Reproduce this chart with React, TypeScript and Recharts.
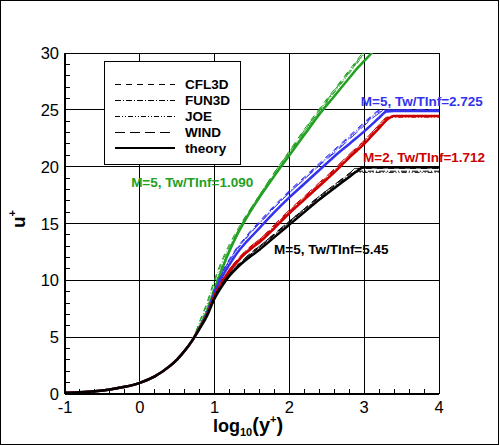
import React from 'react';
import { LineChart, Line, XAxis, YAxis, CartesianGrid, ReferenceDot } from 'recharts';

// ---- axes ----
const xTicks = [-1, -0.8, -0.6, -0.4, -0.2, 0, 0.2, 0.4, 0.6, 0.8, 1, 1.2, 1.4, 1.6, 1.8, 2, 2.2, 2.4, 2.6, 2.8, 3, 3.2, 3.4, 3.6, 3.8, 4];
const yTicks = [0, 1, 2, 3, 4, 5, 6, 7, 8, 9, 10, 11, 12, 13, 14, 15, 16, 17, 18, 19, 20, 21, 22, 23, 24, 25, 26, 27, 28, 29, 30];
const xGrid = [-1, 0, 1, 2, 3, 4];
const yGrid = [0, 5, 10, 15, 20, 25, 30];

// ---- common near-wall region (all curves coincide) ----
const xWall = [-1, -0.8, -0.6, -0.4, -0.2, 0, 0.2, 0.4, 0.5, 0.6, 0.7];
const uWall = [0.1, 0.16, 0.25, 0.4, 0.63, 0.98, 1.55, 2.45, 3.05, 3.8, 4.7];

// ---- outer region abscissae ----
const xOuter = [0.8, 0.9, 1.0, 1.1, 1.2, 1.3, 1.4, 1.5, 1.6, 1.8, 2.0, 2.2, 2.4, 2.6, 2.8, 2.9, 3.0, 3.1, 3.2, 3.3, 3.4, 3.6, 3.8, 4.0];

// M=5, Tw/Tinf=1.090 (green)
const greenTheory = [5.9, 7.3, 9.2, 11.0, 12.6, 14.0, 15.2, 16.3, 17.3, 19.2, 21.0, 22.8, 24.6, 26.2, 27.8, 28.6, 29.3, 30.0, 30.8];
const greenCFL3D = [6.4, 8.1, 10.1, 11.8, 13.2, 14.4, 15.5, 16.5, 17.5, 19.5, 21.4, 23.3, 25.1, 26.8, 28.5, 29.35, 30.2, 31.0, 31.9];
const greenFUN3D = [6.3, 7.9, 9.9, 11.6, 13.0, 14.2, 15.3, 16.3, 17.3, 19.3, 21.2, 23.1, 24.9, 26.6, 28.3, 29.15, 30.0, 30.8, 31.7];
const greenJOE = [6.1, 7.6, 9.5, 11.3, 12.8, 14.0, 15.1, 16.2, 17.2, 19.2, 21.1, 23.0, 24.8, 26.5, 28.2, 29.05, 29.9, 30.7, 31.6];
const greenWIND = [5.8, 7.2, 9.1, 11.0, 12.7, 14.2, 15.4, 16.5, 17.5, 19.5, 21.3, 23.2, 25.0, 26.7, 28.4, 29.25, 30.1, 30.9, 31.8];

// M=5, Tw/Tinf=2.725 (blue)
const blueTheory = [5.8, 7.1, 8.9, 10.3, 11.4, 12.4, 13.2, 13.9, 14.6, 16.0, 17.3, 18.5, 19.7, 20.9, 22.0, 22.55, 23.1, 23.7, 24.3, 24.85, 24.9, 24.9, 24.9, 24.9];
const blueCFL3D = [5.9, 7.3, 9.2, 10.7, 11.9, 12.9, 13.7, 14.5, 15.2, 16.6, 17.9, 19.1, 20.3, 21.5, 22.7, 23.3, 23.9, 24.5, 24.95, 25.0, 25.0, 25.0, 25.0, 25.0];
const blueFUN3D = [5.9, 7.2, 9.1, 10.6, 11.8, 12.8, 13.6, 14.4, 15.1, 16.5, 17.8, 19.0, 20.2, 21.4, 22.6, 23.2, 23.8, 24.4, 24.9, 24.95, 24.95, 24.95, 24.95, 24.95];
const blueJOE = [5.8, 7.2, 9.0, 10.5, 11.7, 12.7, 13.5, 14.3, 15.0, 16.4, 17.7, 18.9, 20.1, 21.3, 22.5, 23.1, 23.7, 24.3, 24.8, 24.9, 24.9, 24.9, 24.9, 24.9];
const blueWIND = [5.9, 7.3, 9.1, 10.6, 11.8, 12.8, 13.6, 14.3, 15.0, 16.4, 17.7, 18.9, 20.1, 21.2, 22.4, 23.0, 23.6, 24.2, 24.7, 24.95, 25.0, 25.0, 25.0, 25.0];

// M=2, Tw/Tinf=1.712 (red)
const redTheory = [5.8, 7.0, 8.6, 9.8, 10.8, 11.6, 12.3, 12.85, 13.35, 14.6, 15.9, 17.1, 18.3, 19.5, 20.8, 21.4, 22.0, 22.7, 23.4, 24.1, 24.45, 24.45, 24.45, 24.45];
const redCFL3D = [5.8, 7.1, 8.8, 10.0, 11.0, 11.8, 12.5, 13.1, 13.6, 14.8, 16.1, 17.3, 18.5, 19.7, 21.0, 21.6, 22.2, 22.9, 23.6, 24.3, 24.45, 24.45, 24.45, 24.45];
const redFUN3D = [5.8, 7.1, 8.7, 9.9, 10.9, 11.7, 12.4, 13.0, 13.5, 14.7, 16.0, 17.2, 18.4, 19.6, 20.9, 21.5, 22.1, 22.8, 23.5, 24.2, 24.4, 24.4, 24.4, 24.4];
const redJOE = [5.8, 7.0, 8.7, 9.9, 10.9, 11.7, 12.4, 13.0, 13.5, 14.8, 16.1, 17.3, 18.5, 19.7, 21.0, 21.6, 22.3, 23.0, 23.7, 24.3, 24.35, 24.35, 24.35, 24.35];
const redWIND = [5.8, 7.1, 8.8, 10.0, 11.0, 11.8, 12.5, 13.1, 13.6, 14.9, 16.2, 17.4, 18.6, 19.8, 21.1, 21.7, 22.3, 23.0, 23.7, 24.35, 24.5, 24.5, 24.5, 24.5];

// M=5, Tw/Tinf=5.45 (black)
const blackTheory = [5.75, 6.9, 8.4, 9.5, 10.4, 11.1, 11.7, 12.2, 12.7, 13.8, 14.9, 16.0, 17.1, 18.1, 19.1, 19.6, 19.95, 19.95, 19.95, 19.95, 19.95, 19.95, 19.95, 19.95];
const blackCFL3D = [5.8, 7.0, 8.6, 9.7, 10.6, 11.3, 11.9, 12.5, 13.0, 14.1, 15.2, 16.3, 17.4, 18.4, 19.4, 19.85, 19.85, 19.85, 19.85, 19.85, 19.85, 19.85, 19.85, 19.85];
const blackFUN3D = [5.8, 6.9, 8.5, 9.6, 10.5, 11.2, 11.8, 12.4, 12.9, 14.0, 15.1, 16.2, 17.3, 18.3, 19.3, 19.6, 19.6, 19.6, 19.6, 19.6, 19.6, 19.6, 19.6, 19.6];
const blackJOE = [5.8, 6.9, 8.5, 9.6, 10.5, 11.2, 11.8, 12.4, 12.9, 14.0, 15.1, 16.2, 17.2, 18.2, 19.2, 19.5, 19.5, 19.5, 19.5, 19.5, 19.5, 19.5, 19.5, 19.5];
const blackWIND = [5.8, 7.0, 8.6, 9.7, 10.6, 11.3, 11.9, 12.5, 13.0, 14.1, 15.2, 16.3, 17.4, 18.4, 19.4, 19.9, 19.9, 19.9, 19.9, 19.9, 19.9, 19.9, 19.9, 19.9];

const codeNames = ['CFL3D', 'FUN3D', 'JOE', 'WIND', 'theory'];
const caseLabels = ['M=5, Tw/TInf=1.090', 'M=5, Tw/TInf=2.725', 'M=2, Tw/TInf=1.712', 'M=5, Tw/TInf=5.45'];
const labelX = [0.7, 3.77, 3.8, 2.56];
const labelY = [18.65, 25.7, 20.85, 12.75];

const GREEN = '#22a022';
const BLUE = '#3333ee';
const RED = '#cc0000';
const BLACK = '#000000';
const caseColors = [GREEN, BLUE, RED, BLACK];

const DASH: Record<string, string | undefined> = {
  CFL3D: '6 5',
  FUN3D: '6 2 1 2',
  JOE: '5 2 1 2 1 2',
  WIND: '10 5',
  theory: undefined,
};

const build = (tail: number[]) => [
  ...xWall.map((x, i) => ({ x, u: uWall[i] })),
  ...tail.map((u, i) => ({ x: xOuter[i], u })),
];

const cases = [
  [greenCFL3D, greenFUN3D, greenJOE, greenWIND, greenTheory],
  [blueCFL3D, blueFUN3D, blueJOE, blueWIND, blueTheory],
  [redCFL3D, redFUN3D, redJOE, redWIND, redTheory],
  [blackCFL3D, blackFUN3D, blackJOE, blackWIND, blackTheory],
];

const FONT = '"Liberation Sans", Arial, Helvetica, sans-serif';

const renderXTick = (props: any) => {
  const { x, y, payload } = props;
  const v = payload.value as number;
  const major = Number.isInteger(Math.round(v * 1000) / 1000);
  return (
    <g>
      <line x1={x} x2={x} y1={y} y2={y - (major ? 8 : 5)} stroke="#000" strokeWidth={1} shapeRendering="crispEdges" />
      {major && (
        <text x={x} y={y + 19} textAnchor="middle" fontSize={16.5} fontFamily={FONT} fill="#000">
          {String(Math.round(v))}
        </text>
      )}
    </g>
  );
};

const renderYTick = (props: any) => {
  const { x, y, payload } = props;
  const v = payload.value as number;
  const major = v % 5 === 0;
  return (
    <g>
      <line x1={x} x2={x + (major ? 8 : 5)} y1={y} y2={y} stroke="#000" strokeWidth={1} shapeRendering="crispEdges" />
      {major && (
        <text x={x - 6} y={y + 6} textAnchor="end" fontSize={16.5} fontFamily={FONT} fill="#000">
          {String(v)}
        </text>
      )}
    </g>
  );
};

const vGen = (p: any) => {
  const ax = p && p.xAxis;
  if (ax && typeof ax.scale === 'function') return xGrid.map((v) => ax.scale(v));
  const o = p.offset;
  return xGrid.map((v) => o.left + ((v - xGrid[0]) / (xGrid[xGrid.length - 1] - xGrid[0])) * o.width);
};
const hGen = (p: any) => {
  const ax = p && p.yAxis;
  if (ax && typeof ax.scale === 'function') return yGrid.map((v) => ax.scale(v));
  const o = p.offset;
  return yGrid.map((v) => o.top + ((yGrid[yGrid.length - 1] - v) / (yGrid[yGrid.length - 1] - yGrid[0])) * o.height);
};

const CSS = `
.recharts-wrapper line, .crisp line, .crisp rect { shape-rendering: crispEdges !important; }
.recharts-cartesian-grid line { stroke: #000 !important; stroke-opacity: 1 !important; }
`;

export default function App() {
  const legendRows = codeNames;
  return (
    <div style={{ position: 'absolute', left: 0, top: 0, width: 500, height: 445, background: '#fff' }}>
      <style>{CSS}</style>
      <LineChart width={500} height={445} margin={{ top: 53, right: 61, left: 5, bottom: 11 }}>
        <CartesianGrid
          stroke="#000"
          strokeOpacity={1}
          strokeWidth={1}
          shapeRendering="crispEdges"
          verticalCoordinatesGenerator={vGen}
          horizontalCoordinatesGenerator={hGen}
        />
        <XAxis
          type="number"
          dataKey="x"
          domain={[-1, 4]}
          ticks={xTicks}
          interval={0}
          tick={renderXTick}
          tickLine={false}
          tickSize={0}
          tickMargin={0}
          height={40}
          allowDataOverflow
          axisLine={{ stroke: '#000', strokeWidth: 2 }}
        />
        <YAxis
          type="number"
          domain={[0, 30]}
          ticks={yTicks}
          interval={0}
          tick={renderYTick}
          tickLine={false}
          tickSize={0}
          tickMargin={0}
          width={60}
          allowDataOverflow
          axisLine={{ stroke: '#000', strokeWidth: 2 }}
        />
        {cases.map((series, ci) =>
          series.map((tail, si) => {
            const name = codeNames[si];
            const theory = name === 'theory';
            return (
              <Line
                key={`${ci}-${si}`}
                data={build(tail)}
                dataKey="u"
                type="monotone"
                dot={false}
                activeDot={false}
                stroke={caseColors[ci]}
                strokeWidth={theory ? 2.5 : 1}
                strokeDasharray={DASH[name]}
                isAnimationActive={false}
              />
            );
          })
        )}
        {caseLabels.map((t, i) => (
          <ReferenceDot
            key={t}
            x={labelX[i]}
            y={labelY[i]}
            r={1}
            ifOverflow="visible"
            shape={(p: any) => (
              <text
                x={p.cx}
                y={p.cy}
                textAnchor="middle"
                dominantBaseline="central"
                fontSize={13.5}
                fontWeight="bold"
                fontFamily={FONT}
                fill={caseColors[i]}
              >
                {t}
              </text>
            )}
          />
        ))}
      </LineChart>
      <svg
        className="crisp"
        width={500}
        height={445}
        style={{ position: 'absolute', left: 0, top: 0, pointerEvents: 'none' }}
      >
        <rect x={0.5} y={0.5} width={498} height={444} fill="none" stroke="#000" strokeWidth={1} />
        {/* legend */}
        <rect x={104.5} y={61.5} width={136} height={103} fill="#fff" stroke="#000" strokeWidth={1} />
        {legendRows.map((n, i) => {
          const yy = 84 + i * 16;
          return (
            <g key={n}>
              <line
                x1={115}
                x2={175}
                y1={yy}
                y2={yy}
                stroke="#000"
                strokeWidth={n === 'theory' ? 2.5 : 1}
                strokeDasharray={DASH[n]}
              />
              <text x={185} y={yy + 5} fontSize={13.5} fontWeight="bold" fontFamily={FONT} fill="#000">
                {n}
              </text>
            </g>
          );
        })}
        {/* x title */}
        <text x={213} y={432} fontFamily={FONT} fontWeight="bold" fontSize={18} fill="#000">
          log
          <tspan fontSize={11} dy={4}>10</tspan>
          <tspan fontSize={20} dy={-4}>(y</tspan>
          <tspan fontSize={11} dy={-9}>+</tspan>
          <tspan fontSize={20} dy={9}>)</tspan>
        </text>
        {/* y title */}
        <text
          transform="rotate(-90)"
          x={-228}
          y={25}
          fontFamily={FONT}
          fontWeight="bold"
          fontSize={19}
          fill="#000"
        >
          u<tspan fontSize={11} dy={-9}>+</tspan>
        </text>
      </svg>
    </div>
  );
}
